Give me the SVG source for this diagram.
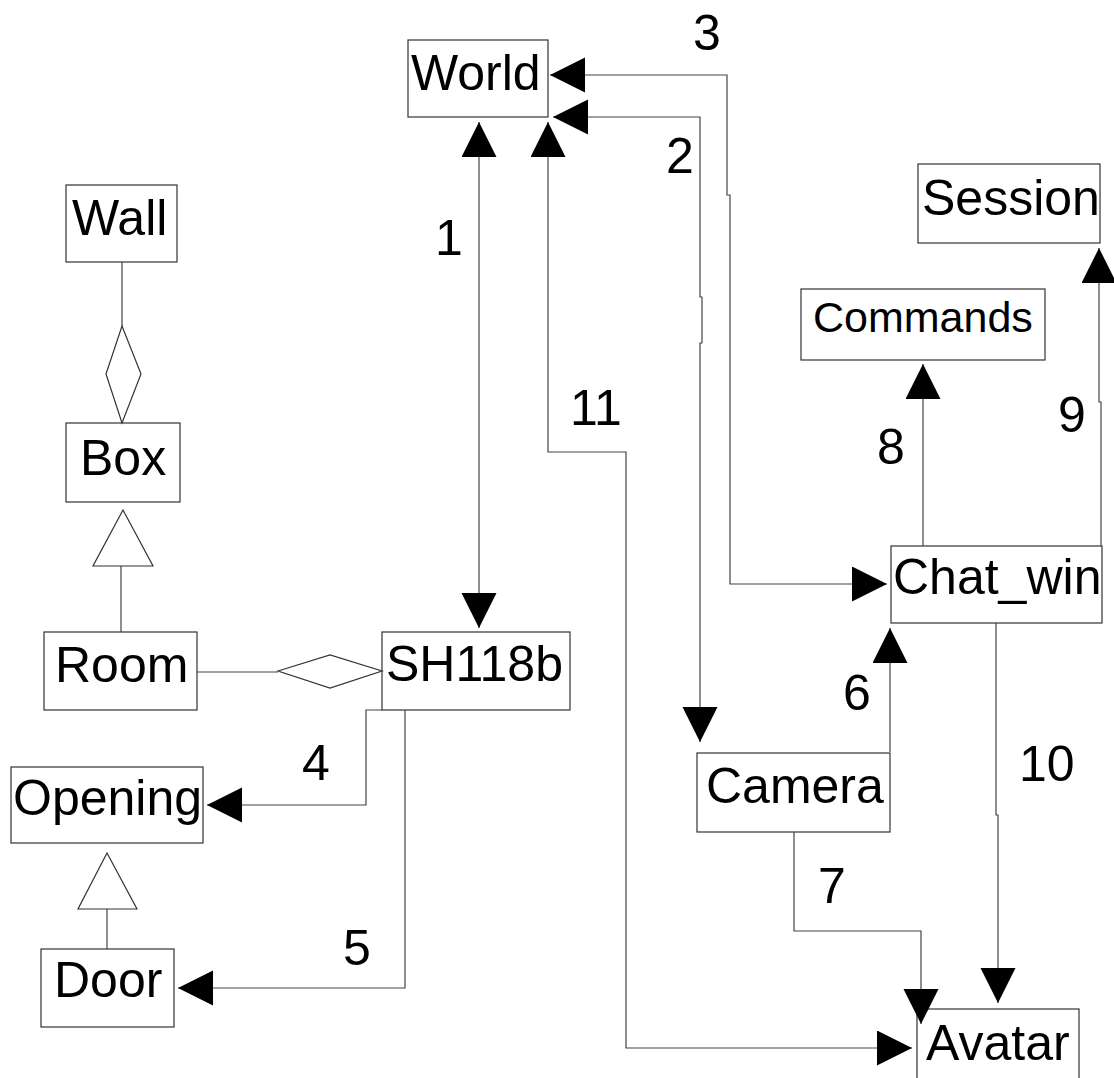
<svg xmlns="http://www.w3.org/2000/svg" width="1114" height="1078" viewBox="0 0 1114 1078">
<style>
  .box { fill: #ffffff; stroke: #333333; stroke-width: 1.2; }
  .lbl { font-family: "Liberation Sans", Arial, sans-serif; font-size: 50px; fill: #000000; }
  .cmd { font-size: 43px; }
  .ln { fill: none; stroke: #444444; stroke-width: 1.2; }
  .arr { marker-end: url(#ah); }
  .both { marker-start: url(#ah); marker-end: url(#ah); }
  .sym { fill: #ffffff; stroke: #333333; stroke-width: 1.2; }
</style>
<defs>
  <marker id="ah" markerUnits="userSpaceOnUse" markerWidth="36" markerHeight="36" refX="35" refY="17.5" orient="auto-start-reverse" viewBox="0 0 36 36">
    <path d="M0,0 L35,17.5 L0,35 z" fill="#000000"/>
  </marker>
</defs>
<rect width="1114" height="1078" fill="#ffffff"/>

<g id="node-world">
  <rect class="box" x="408" y="40" width="140" height="77"/>
  <text class="lbl" x="411" y="90">World</text>
</g>
<g id="node-wall">
  <rect class="box" x="66" y="185" width="111" height="77"/>
  <text class="lbl" x="72" y="235">Wall</text>
</g>
<g id="node-box">
  <rect class="box" x="66" y="423" width="114" height="79"/>
  <text class="lbl" x="80" y="475">Box</text>
</g>
<g id="node-session">
  <rect class="box" x="918" y="164" width="182" height="79"/>
  <text class="lbl" x="922" y="215">Session</text>
</g>
<g id="node-commands">
  <rect class="box" x="801" y="289" width="244" height="71"/>
  <text class="lbl cmd" x="813" y="332">Commands</text>
</g>
<g id="node-chat_win">
  <rect class="box" x="891" y="546" width="211" height="77"/>
  <text class="lbl" x="893" y="594">Chat_win</text>
</g>
<g id="node-room">
  <rect class="box" x="44" y="632" width="153" height="78"/>
  <text class="lbl" x="55" y="682">Room</text>
</g>
<g id="node-sh118b">
  <rect class="box" x="382" y="632" width="188" height="78"/>
  <text class="lbl" x="386" y="681">SH118b</text>
</g>
<g id="node-opening">
  <rect class="box" x="11" y="767" width="192" height="76"/>
  <text class="lbl" x="13" y="815">Opening</text>
</g>
<g id="node-camera">
  <rect class="box" x="697" y="753" width="193" height="79"/>
  <text class="lbl" x="706" y="803">Camera</text>
</g>
<g id="node-door">
  <rect class="box" x="41" y="949" width="133" height="78"/>
  <text class="lbl" x="54" y="997">Door</text>
</g>
<g id="node-avatar">
  <rect class="box" x="917" y="1009" width="162" height="90"/>
  <text class="lbl" x="926" y="1060">Avatar</text>
</g>

<g id="connectors">
  <!-- Wall - Box aggregation -->
  <line class="ln" x1="122" y1="262" x2="122" y2="326"/>
  <polygon class="sym" points="122,326 141,374 122,423 106,374"/>
  <!-- Room - Box generalization -->
  <line class="ln" x1="121" y1="566" x2="121" y2="632"/>
  <polygon class="sym" points="123,510 153,566 93,566"/>
  <!-- Room - SH118b aggregation -->
  <line class="ln" x1="197" y1="672" x2="278" y2="672"/>
  <polygon class="sym" points="278,671 330,655 382,671 330,688"/>
  <!-- Door - Opening generalization -->
  <line class="ln" x1="107" y1="909" x2="107" y2="949"/>
  <polygon class="sym" points="107,853 137,909 78,909"/>
  <!-- 1 -->
  <path class="ln both" d="M479,122 L479,628"/>
  <!-- 2 -->
  <path class="ln both" d="M700,742 L700,343 L702,343 L702,297 L700,297 L700,117 L553,117"/>
  <!-- 3 -->
  <path class="ln both" d="M887,584 L730,584 L730,195 L727,195 L727,75 L550,75"/>
  <!-- 4 -->
  <path class="ln arr" d="M382,710 L366,710 L366,805 L207,805"/>
  <!-- 5 -->
  <path class="ln arr" d="M405,710 L405,988 L178,988"/>
  <!-- 6 -->
  <path class="ln arr" d="M890,752 L890,628"/>
  <!-- 7 -->
  <path class="ln arr" d="M794,832 L794,931 L921,931 L921,1024"/>
  <!-- 8 -->
  <path class="ln arr" d="M923,546 L923,364"/>
  <!-- 9 -->
  <path class="ln arr" d="M1101,546 L1101,402 L1099,402 L1099,248"/>
  <!-- 10 -->
  <path class="ln arr" d="M996,623 L996,815 L998,815 L998,1003"/>
  <!-- 11 -->
  <path class="ln both" d="M548,122 L548,452 L626,452 L626,1048 L912,1048"/>
  <!-- labels -->
  <text class="lbl" x="435" y="255">1</text>
  <text class="lbl" x="666" y="173">2</text>
  <text class="lbl" x="693" y="50">3</text>
  <text class="lbl" x="302" y="780">4</text>
  <text class="lbl" x="343" y="965">5</text>
  <text class="lbl" x="843" y="710">6</text>
  <text class="lbl" x="818" y="903">7</text>
  <text class="lbl" x="877" y="464">8</text>
  <text class="lbl" x="1058" y="432">9</text>
  <text class="lbl" x="1019" y="781">10</text>
  <text class="lbl" x="570" y="425">11</text>
</g>
</svg>
